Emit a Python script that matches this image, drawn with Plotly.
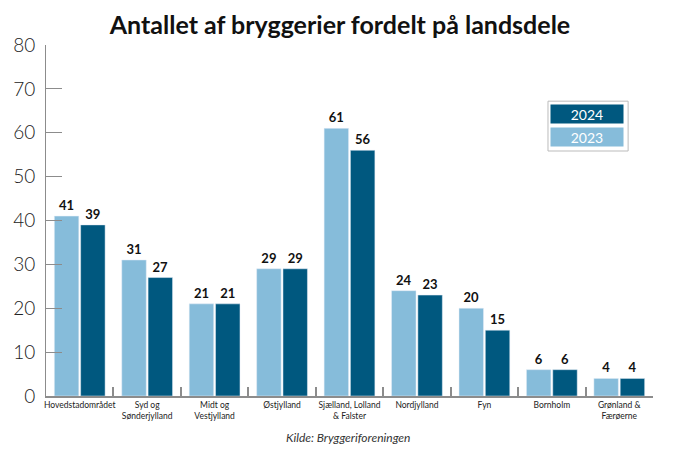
import plotly.graph_objects as go

regions = ["Hovedstadområdet", "Syd og<br>Sønderjylland", "Midt og<br>Vestjylland",
           "Østjylland", "Sjælland, Lolland<br>& Falster", "Nordjylland", "Fyn",
           "Bornholm", "Grønland &<br>Færøerne"]
count_2023 = [41, 31, 21, 29, 61, 24, 20, 6, 4]
count_2024 = [39, 27, 21, 29, 56, 23, 15, 6, 4]
y_ticks = [0, 10, 20, 30, 40, 50, 60, 70, 80]

light = "#86BCDA"
dark = "#00587F"
grey = "#8c8c8c"

fig = go.Figure()
fig.add_trace(go.Bar(x=regions, y=count_2023, name="2023", marker_color=light,
                     text=count_2023, textposition="outside", cliponaxis=False,
                     textfont=dict(family="Lato", size=13, color="#111111", weight="bold")))
fig.add_trace(go.Bar(x=regions, y=count_2024, name="2024", marker_color=dark,
                     text=count_2024, textposition="outside", cliponaxis=False,
                     textfont=dict(family="Lato", size=13, color="#111111", weight="bold")))

fig.update_layout(
    width=680, height=457,
    margin=dict(l=46, r=27, t=45, b=61),
    paper_bgcolor="white", plot_bgcolor="white",
    barmode="group", bargap=0.22, bargroupgap=0.07,
    showlegend=False,
    title=dict(text="<b>Antallet af bryggerier fordelt på landsdele</b>",
               x=0.5, xanchor="center", y=0.945, yanchor="middle",
               font=dict(family="Lato", size=25, color="#111111")),
    font=dict(family="Lato"),
)

fig.update_yaxes(range=[0, 80], tickvals=y_ticks, showgrid=False, zeroline=False,
                 showline=True, linecolor=grey, linewidth=1,
                 ticks="inside", ticklen=16, tickcolor=grey,
                 tickfont=dict(family="Lato", size=19, color="#222222", weight=300),
                 ticklabelstandoff=6)
fig.update_xaxes(showgrid=False, showline=True, linecolor=grey, linewidth=2,
                 ticks="inside", tickson="boundaries", ticklen=9, tickcolor=grey, tickwidth=1.5,
                 tickfont=dict(family="Lato", size=8.5, color="#222222"), tickangle=0)

# legend box drawn by hand (paper = plot area)
fig.add_shape(type="rect", xref="paper", yref="paper", x0=0.827, x1=0.959, y0=0.698, y1=0.840,
              line=dict(color="#bbbbbb", width=1), fillcolor="white", layer="below")
fig.add_annotation(text="2024", xref="paper", yref="paper", x=0.892, y=0.803, showarrow=False,
                   xanchor="center", yanchor="middle", width=70, height=16, bgcolor=dark,
                   font=dict(family="Lato", size=14, color="white"))
fig.add_annotation(text="2023", xref="paper", yref="paper", x=0.892, y=0.738, showarrow=False,
                   xanchor="center", yanchor="middle", width=70, height=16, bgcolor=light,
                   font=dict(family="Lato", size=14, color="white"))

fig.add_annotation(text="<i>Kilde: Bryggeriforeningen</i>", xref="paper", yref="paper",
                   x=0.497, y=-0.118, yanchor="middle", showarrow=False,
                   font=dict(family="Lato", size=12, color="#333333"))

fig.write_html("out.html", config={"displayModeBar": False},
               post_script="document.body.style.margin='0';")
